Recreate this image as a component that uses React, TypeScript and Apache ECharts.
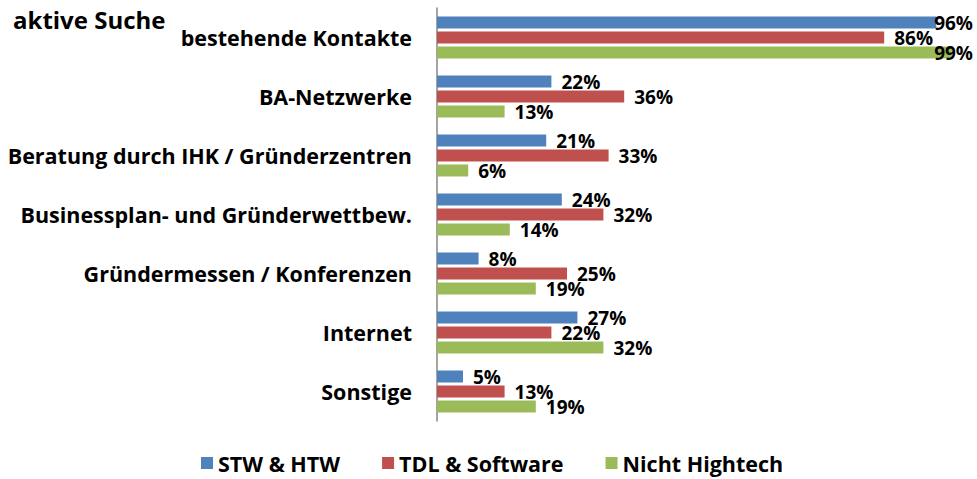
import React, { useEffect, useRef } from "react";
import * as echarts from "echarts";

const categories = [
  "bestehende Kontakte",
  "BA-Netzwerke",
  "Beratung durch IHK / Gründerzentren",
  "Businessplan- und Gründerwettbew.",
  "Gründermessen / Konferenzen",
  "Internet",
  "Sonstige",
];
const seriesNames = ["STW & HTW", "TDL & Software", "Nicht Hightech"];
const stwHtw = [96, 22, 21, 24, 8, 27, 5];
const tdlSoftware = [86, 36, 33, 32, 25, 22, 13];
const nichtHightech = [99, 13, 6, 14, 19, 32, 19];
const colors = ["#4F81BD", "#C0504D", "#9BBB59"];
const title = "aktive Suche";

const FONT = "'Open Sans', sans-serif";
const RIGHT_LIMIT = 973;

export default function App() {
  const ref = useRef<HTMLDivElement>(null);
  useEffect(() => {
    if (!ref.current) return;
    const chart = echarts.init(ref.current, undefined, { renderer: "svg" });
    const values = [stwHtw, tdlSoftware, nichtHightech];
    chart.setOption({
      animation: false,
      textStyle: { fontFamily: FONT },
      title: {
        text: title,
        left: 8,
        top: 2,
        textStyle: { fontFamily: FONT, fontSize: 24, fontWeight: "bold", color: "#000" },
      },
      legend: {
        data: seriesNames,
        left: 196,
        top: 447,
        icon: "rect",
        itemWidth: 12,
        itemHeight: 12,
        itemGap: 42,
        textStyle: { fontFamily: FONT, fontSize: 21.5, fontWeight: "bold", color: "#000" },
      },
      grid: { left: 437, top: 8, width: 520, height: 413, containLabel: false },
      xAxis: {
        type: "value",
        min: 0,
        max: 100,
        show: false,
        splitLine: { show: false },
      },
      yAxis: {
        type: "category",
        data: categories,
        inverse: true,
        axisLine: { show: true, lineStyle: { color: "#868686", width: 1.5 } },
        axisTick: { show: false },
        axisLabel: {
          margin: 25,
          fontFamily: FONT,
          fontSize: 21.5,
          fontWeight: "bold",
          color: "#000",
        },
      },
      labelLayout: (params: any) => {
        const r = params.labelRect;
        if (r && r.x + r.width > RIGHT_LIMIT) {
          return {
            x: RIGHT_LIMIT,
            y: r.y + r.height / 2,
            align: "right",
            verticalAlign: "middle",
          };
        }
        return {};
      },
      series: values.map((arr, i) => ({
        name: seriesNames[i],
        type: "bar",
        data: arr,
        barWidth: 12,
        barGap: "25%",
        itemStyle: { color: colors[i] },
        label: {
          show: true,
          position: "right",
          distance: 10,
          formatter: "{c}%",
          fontFamily: FONT,
          fontSize: 19,
          fontWeight: "bold",
          color: "#000",
        },
      })),
    });
    return () => chart.dispose();
  }, []);
  return (
    <div
      ref={ref}
      style={{ position: "fixed", left: 0, top: 0, width: 977, height: 479, background: "#fff" }}
    />
  );
}
